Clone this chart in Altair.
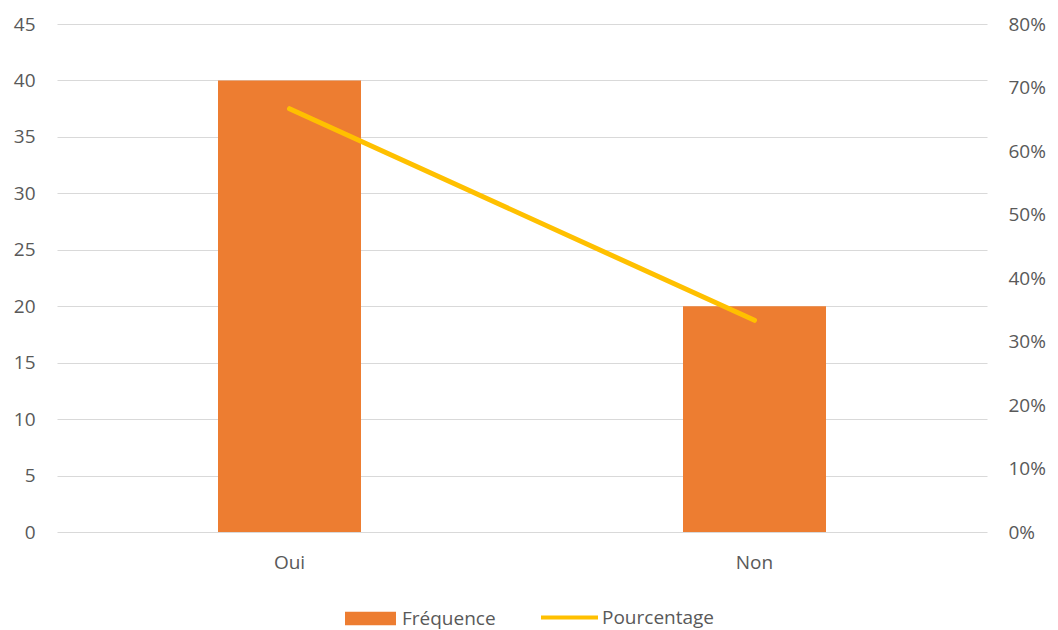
import altair as alt
import pandas as pd

# Survey answers: count and share of respondents
categories = ["Oui", "Non"]
frequence = [40, 20]
pourcentage = [40 / 60, 20 / 60]

df = pd.DataFrame({
    "reponse": categories,
    "freq": frequence,
    "pct": pourcentage,
    "serie_bar": ["Fréquence"] * 2,
    "serie_line": ["Pourcentage"] * 2,
})

FONT = "Open Sans"
GREY = "#595959"
FS = 19

x_enc = alt.X(
    "reponse:N",
    sort=categories,
    title=None,
    scale=alt.Scale(paddingInner=0, paddingOuter=0),
    axis=alt.Axis(labelAngle=0, domain=False, ticks=False, labelPadding=21,
                  labelFontSize=FS, labelColor=GREY, labelFont=FONT, grid=False),
)

bars = alt.Chart(df).mark_bar(size=143).encode(
    x=x_enc,
    y=alt.Y("freq:Q", title=None,
            scale=alt.Scale(domain=[0, 45], nice=False),
            axis=alt.Axis(values=list(range(0, 50, 5)), domain=False, ticks=False,
                          labelPadding=22, labelFontSize=FS, labelColor=GREY,
                          labelFont=FONT, gridColor="#d9d9d9", gridWidth=1.2)),
    fill=alt.Fill("serie_bar:N", title=None,
                  scale=alt.Scale(domain=["Fréquence"], range=["#ED7D31"]),
                  legend=alt.Legend(orient="none", legendX=288, legendY=569,
                                    symbolType="M-1,-0.26L1,-0.26L1,0.26L-1,0.26Z",
                                    symbolSize=2601, symbolStrokeWidth=0,
                                    labelFontSize=FS, labelColor=GREY, labelFont=FONT,
                                    labelOffset=6)),
)

line = alt.Chart(df).mark_line(strokeWidth=5, strokeCap="round").encode(
    x=alt.X("reponse:N", sort=categories),
    y=alt.Y("pct:Q", title=None,
            scale=alt.Scale(domain=[0, 0.8], nice=False),
            axis=alt.Axis(orient="right", format=".0%",
                          values=[i / 10 for i in range(9)], domain=False, ticks=False,
                          grid=False, labelPadding=21, labelFontSize=FS,
                          labelColor=GREY, labelFont=FONT)),
    stroke=alt.Stroke("serie_line:N", title=None,
                      scale=alt.Scale(domain=["Pourcentage"], range=["#FFC000"]),
                      legend=alt.Legend(orient="none", legendX=482, legendY=563,
                                        symbolType="stroke",
                                        symbolSize=3249, symbolStrokeWidth=4,
                                        labelFontSize=FS, labelColor=GREY, labelFont=FONT,
                                        labelOffset=2)),
)

chart = (
    alt.layer(bars, line)
    .resolve_scale(y="independent", fill="independent", stroke="independent")
    .properties(
        width=930,
        height=508,
        autosize=alt.AutoSizeParams(type="none"),
        padding={"left": 57, "top": 24, "right": 71, "bottom": 98},
    )
    .configure_view(stroke=None)
)

chart.save("out.html", embed_options={"renderer": "svg", "actions": False})
